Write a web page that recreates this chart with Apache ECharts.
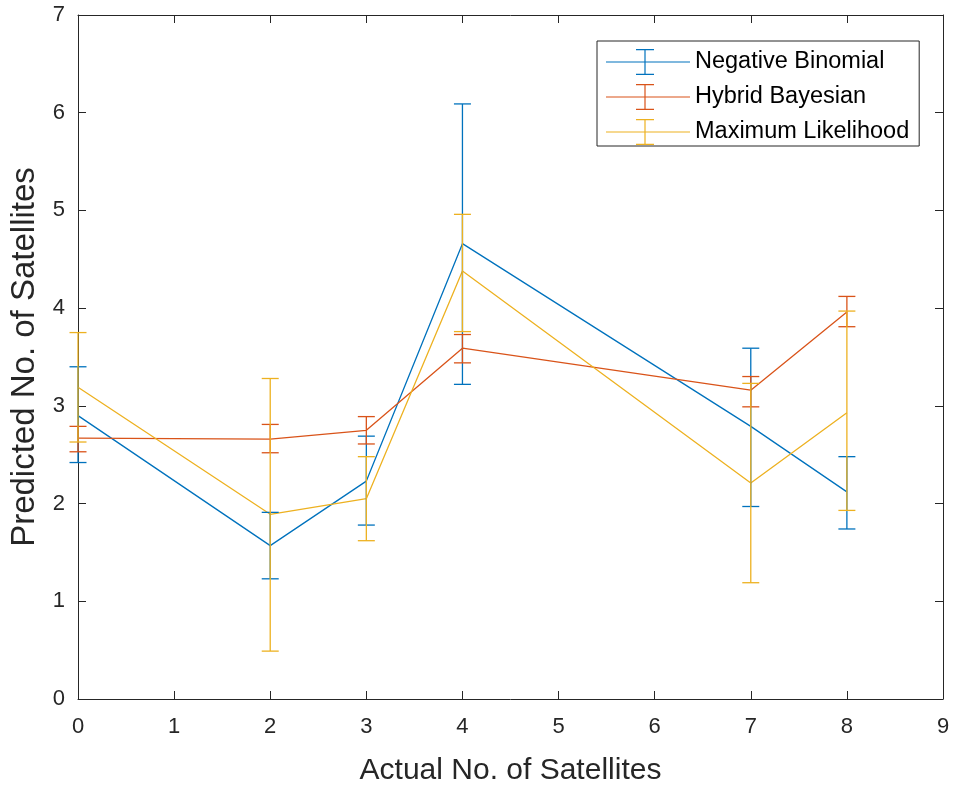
<!DOCTYPE html>
<html>
<head>
<meta charset="utf-8">
<script src="https://cdn.jsdelivr.net/npm/echarts@6/dist/echarts.min.js"></script>
<style>html,body{margin:0;padding:0;background:#fff;}#main{width:955px;height:793px;}</style>
</head>
<body>
<div id="main"></div>
<script>
var xs = [0, 2, 3, 4, 7, 8];
var seriesNames = ['Negative Binomial', 'Hybrid Bayesian', 'Maximum Likelihood'];
var nbMean = [2.90, 1.57, 2.23, 4.66, 2.79, 2.12];
var nbLow  = [2.42, 1.23, 1.78, 3.22, 1.97, 1.74];
var nbHigh = [3.40, 1.91, 2.69, 6.09, 3.59, 2.48];
var hbMean = [2.67, 2.66, 2.75, 3.59, 3.16, 3.96];
var hbLow  = [2.53, 2.52, 2.61, 3.44, 2.99, 3.81];
var hbHigh = [2.79, 2.81, 2.89, 3.73, 3.30, 4.12];
var mlMean = [3.19, 1.89, 2.05, 4.38, 2.21, 2.93];
var mlLow  = [2.63, 0.49, 1.62, 3.76, 1.19, 1.93];
var mlHigh = [3.75, 3.28, 2.48, 4.96, 3.23, 3.97];
var colors = ['#0072BD', '#D95319', '#EDB120'];

var means = [nbMean, hbMean, mlMean];
var lows = [nbLow, hbLow, mlLow];
var highs = [nbHigh, hbHigh, mlHigh];

var axisColor = '#262626';
var font = 'Liberation Sans, Arial, Helvetica, sans-serif';

// legend icon: line with an error bar (84 x 26 box)
var iconPath = 'path://M0,12.4 H84 V13.6 H0 Z M38.4,0.6 H39.6 V25.4 H38.4 Z M30,0 H48 V1.2 H30 Z M30,24.8 H48 V26 H30 Z';

var series = [];
for (var s = 0; s < 3; s++) {
  var lineData = [], errData = [];
  for (var i = 0; i < xs.length; i++) {
    lineData.push([xs[i], means[s][i]]);
    errData.push([xs[i], lows[s][i], highs[s][i]]);
  }
  series.push({
    name: seriesNames[s], type: 'line', data: lineData, symbol: 'none',
    lineStyle: {color: colors[s], width: 1.3}, itemStyle: {color: colors[s]},
    animation: false, z: 3
  });
  (function (col) {
    series.push({
      name: seriesNames[s], type: 'custom', data: errData, animation: false, z: 4,
      itemStyle: {color: col},
      renderItem: function (params, api) {
        var x = api.value(0);
        var lo = api.coord([x, api.value(1)]);
        var hi = api.coord([x, api.value(2)]);
        var hw = 8.5;
        var st = {stroke: col, lineWidth: 1.3};
        return {
          type: 'group',
          children: [
            {type: 'line', shape: {x1: lo[0], y1: lo[1], x2: hi[0], y2: hi[1]}, style: st},
            {type: 'line', shape: {x1: lo[0] - hw, y1: lo[1], x2: lo[0] + hw, y2: lo[1]}, style: st},
            {type: 'line', shape: {x1: hi[0] - hw, y1: hi[1], x2: hi[0] + hw, y2: hi[1]}, style: st}
          ]
        };
      }
    });
  })(colors[s]);
}
// empty series bound to the box (top / right) axes so they are drawn
series.push({type: 'line', xAxisIndex: 1, yAxisIndex: 1, data: [], silent: true});

var chart = echarts.init(document.getElementById('main'), null, {renderer: 'canvas'});
chart.setOption({
  backgroundColor: '#ffffff',
  animation: false,
  grid: {left: 77, right: 12, top: 15, bottom: 94, show: false},
  legend: {
    orient: 'vertical', left: 597, top: 41,
    data: seriesNames.map(function (n, k) { return {name: n, icon: iconPath, itemStyle: {color: colors[k]}}; }),
    itemWidth: 84, itemHeight: 26, itemGap: 9,
    padding: [8, 10, 1, 9],
    borderColor: axisColor, borderWidth: 1, backgroundColor: '#fff',
    textStyle: {fontFamily: font, fontSize: 23.5, color: '#000'},
    selectedMode: false
  },
  xAxis: [{
    type: 'value', min: 0, max: 9, interval: 1,
    name: 'Actual No. of Satellites', nameLocation: 'middle', nameGap: 57,
    nameTextStyle: {fontFamily: font, fontSize: 30, color: axisColor},
    axisLine: {show: true, onZero: false, lineStyle: {color: axisColor, width: 1}},
    axisTick: {show: true, inside: true, length: 8, lineStyle: {color: axisColor}},
    axisLabel: {fontFamily: font, fontSize: 22, color: axisColor, margin: 17},
    splitLine: {show: false}
  }, {
    type: 'value', min: 0, max: 9, interval: 1, position: 'top',
    axisLine: {show: true, onZero: false, lineStyle: {color: axisColor, width: 1}},
    axisTick: {show: true, inside: true, length: 8, lineStyle: {color: axisColor}},
    axisLabel: {show: false}, splitLine: {show: false}
  }],
  yAxis: [{
    type: 'value', min: 0, max: 7, interval: 1,
    name: 'Predicted No. of Satellites', nameLocation: 'middle', nameGap: 37,
    nameTextStyle: {fontFamily: font, fontSize: 33, color: axisColor},
    axisLine: {show: true, onZero: false, lineStyle: {color: axisColor, width: 1}},
    axisTick: {show: true, inside: true, length: 8, lineStyle: {color: axisColor}},
    axisLabel: {fontFamily: font, fontSize: 22, color: axisColor, margin: 13},
    splitLine: {show: false}
  }, {
    type: 'value', min: 0, max: 7, interval: 1, position: 'right',
    axisLine: {show: true, onZero: false, lineStyle: {color: axisColor, width: 1}},
    axisTick: {show: true, inside: true, length: 8, lineStyle: {color: axisColor}},
    axisLabel: {show: false}, splitLine: {show: false}
  }],
  series: series
});
</script>
</body>
</html>
